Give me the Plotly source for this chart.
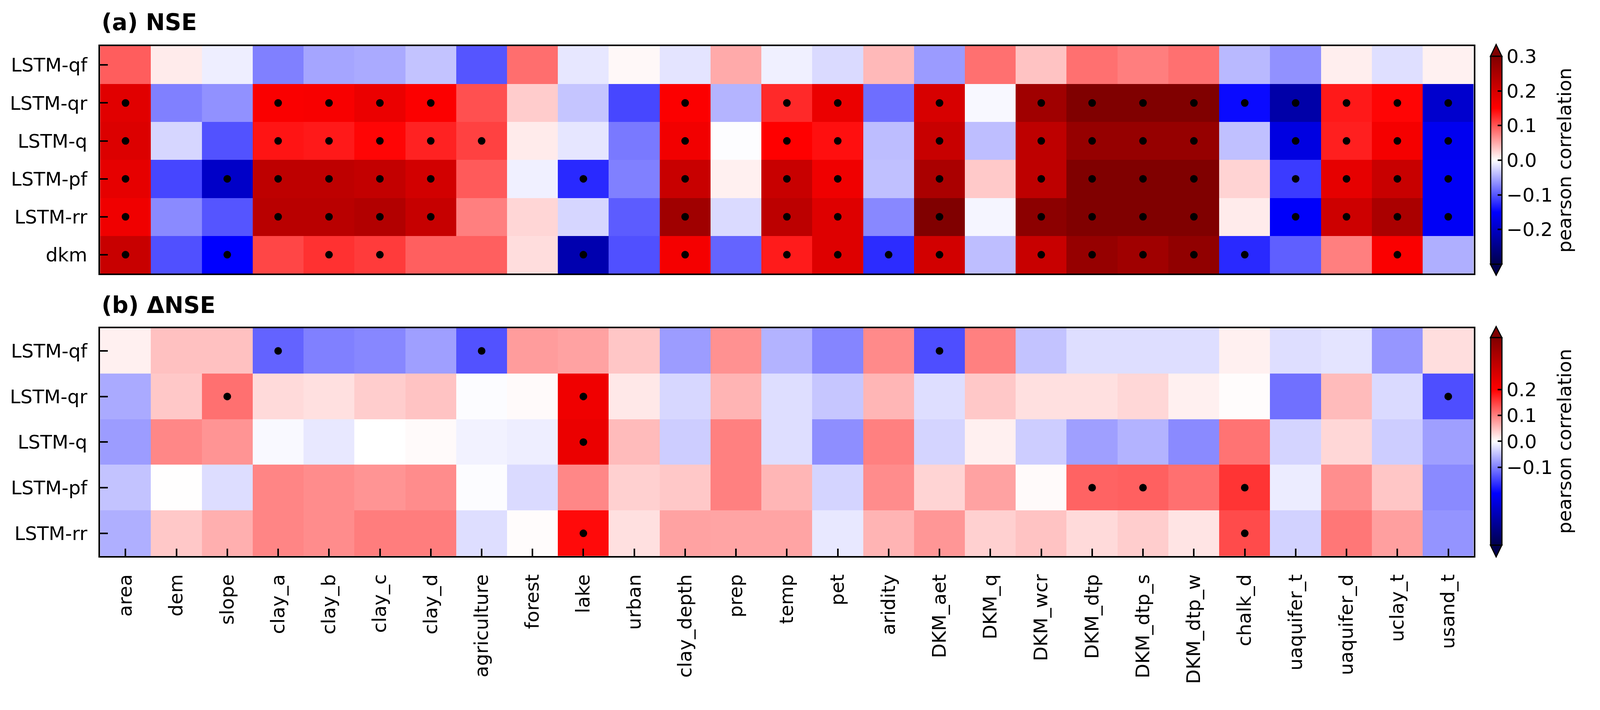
import plotly.graph_objects as go

# picture is 4205x1817; the page is drawn ~2.7% larger than css px, with an 8px body margin
S = 1.0266
M = 8
W = round(4205 / S - M)
H = round(1817 / S - M)

features = ["area", "dem", "slope", "clay_a", "clay_b", "clay_c", "clay_d", "agriculture",
            "forest", "lake", "urban", "clay_depth", "prep", "temp", "pet", "aridity",
            "DKM_aet", "DKM_q", "DKM_wcr", "DKM_dtp", "DKM_dtp_s", "DKM_dtp_w", "chalk_d",
            "uaquifer_t", "uaquifer_d", "uclay_t", "usand_t"]

models_a = ["LSTM-qf", "LSTM-qr", "LSTM-q", "LSTM-pf", "LSTM-rr", "dkm"]
models_b = ["LSTM-qf", "LSTM-qr", "LSTM-q", "LSTM-pf", "LSTM-rr"]

# (a) NSE correlations
nse_qf = [0.095, 0.012, -0.010, -0.075, -0.053, -0.050, -0.035, -0.100, 0.085, -0.014, 0.004, -0.016, 0.050, -0.009,
          -0.022, 0.041, -0.059, 0.084, 0.035, 0.084, 0.076, 0.084, -0.041, -0.065, 0.010, -0.019, 0.008]
nse_qr = [0.185, -0.075, -0.065, 0.156, 0.158, 0.174, 0.154, 0.103, 0.030, -0.034, -0.108, 0.154, -0.044, 0.126,
          0.174, -0.085, 0.197, -0.004, 0.262, 0.310, 0.310, 0.310, -0.144, -0.223, 0.135, 0.147, -0.192]
nse_q = [0.191, -0.024, -0.102, 0.138, 0.135, 0.147, 0.130, 0.112, 0.012, -0.015, -0.079, 0.165, -0.001, 0.150,
         0.141, -0.039, 0.215, -0.038, 0.227, 0.274, 0.274, 0.274, -0.037, -0.175, 0.132, 0.162, -0.163]
nse_pf = [0.180, -0.109, -0.196, 0.227, 0.227, 0.221, 0.203, 0.097, -0.009, -0.126, -0.075, 0.215, 0.009, 0.215,
          0.168, -0.037, 0.250, 0.032, 0.227, 0.305, 0.305, 0.305, 0.026, -0.115, 0.180, 0.215, -0.158]
nse_rr = [0.168, -0.069, -0.100, 0.233, 0.233, 0.241, 0.217, 0.075, 0.024, -0.024, -0.096, 0.262, -0.022, 0.229,
          0.189, -0.070, 0.310, -0.006, 0.286, 0.310, 0.310, 0.310, 0.012, -0.154, 0.209, 0.250, -0.158]
nse_dkm = [0.215, -0.103, -0.150, 0.109, 0.121, 0.115, 0.094, 0.094, 0.020, -0.217, -0.103, 0.162, -0.091, 0.134,
           0.189, -0.124, 0.203, -0.038, 0.215, 0.274, 0.262, 0.280, -0.126, -0.094, 0.075, 0.156, -0.047]

sig_a_qf = [0] * 27
sig_a_qr = [1, 0, 0, 1, 1, 1, 1, 0, 0, 0, 0, 1, 0, 1, 1, 0, 1, 0, 1, 1, 1, 1, 1, 1, 1, 1, 1]
sig_a_q = [1, 0, 0, 1, 1, 1, 1, 1, 0, 0, 0, 1, 0, 1, 1, 0, 1, 0, 1, 1, 1, 1, 0, 1, 1, 1, 1]
sig_a_pf = [1, 0, 1, 1, 1, 1, 1, 0, 0, 1, 0, 1, 0, 1, 1, 0, 1, 0, 1, 1, 1, 1, 0, 1, 1, 1, 1]
sig_a_rr = [1, 0, 0, 1, 1, 1, 1, 0, 0, 0, 0, 1, 0, 1, 1, 0, 1, 0, 1, 1, 1, 1, 0, 1, 1, 1, 1]
sig_a_dkm = [1, 0, 1, 0, 1, 1, 0, 0, 0, 1, 0, 1, 0, 1, 1, 1, 1, 0, 1, 1, 1, 1, 1, 0, 0, 1, 0]

# (b) delta NSE correlations
dnse_qf = [0.012, 0.049, 0.049, -0.122, -0.100, -0.094, -0.075, -0.136, 0.078, 0.073, 0.045, -0.078, 0.086, -0.060,
           -0.096, 0.092, -0.139, 0.100, -0.047, -0.026, -0.026, -0.026, 0.012, -0.026, -0.021, -0.082, 0.026]
dnse_qr = [-0.067, 0.043, 0.112, 0.029, 0.024, 0.039, 0.047, -0.002, 0.004, 0.224, 0.018, -0.031, 0.059, -0.026,
           -0.045, 0.057, -0.026, 0.043, 0.024, 0.024, 0.031, 0.012, 0.002, -0.112, 0.053, -0.029, -0.139]
dnse_q = [-0.078, 0.094, 0.084, -0.005, -0.018, 0.000, 0.004, -0.010, -0.013, 0.231, 0.053, -0.039, 0.100, -0.026,
          -0.089, 0.100, -0.034, 0.012, -0.039, -0.075, -0.060, -0.092, 0.110, -0.034, 0.031, -0.039, -0.075]
dnse_pf = [-0.047, 0.001, -0.027, 0.096, 0.090, 0.084, 0.090, -0.002, -0.029, 0.094, 0.037, 0.043, 0.100, 0.057,
           -0.034, 0.090, 0.034, 0.073, 0.004, 0.122, 0.125, 0.112, 0.159, -0.015, 0.089, 0.045, -0.092]
dnse_rr = [-0.063, 0.043, 0.063, 0.096, 0.090, 0.102, 0.102, -0.026, 0.002, 0.192, 0.024, 0.073, 0.071, 0.071,
           -0.018, 0.059, 0.082, 0.037, 0.047, 0.029, 0.039, 0.021, 0.141, -0.035, 0.107, 0.075, -0.084]

sig_b_qf = [0, 0, 0, 1, 0, 0, 0, 1, 0, 0, 0, 0, 0, 0, 0, 0, 1, 0, 0, 0, 0, 0, 0, 0, 0, 0, 0]
sig_b_qr = [0, 0, 1, 0, 0, 0, 0, 0, 0, 1, 0, 0, 0, 0, 0, 0, 0, 0, 0, 0, 0, 0, 0, 0, 0, 0, 1]
sig_b_q = [0, 0, 0, 0, 0, 0, 0, 0, 0, 1, 0, 0, 0, 0, 0, 0, 0, 0, 0, 0, 0, 0, 0, 0, 0, 0, 0]
sig_b_pf = [0, 0, 0, 0, 0, 0, 0, 0, 0, 0, 0, 0, 0, 0, 0, 0, 0, 0, 0, 1, 1, 0, 1, 0, 0, 0, 0]
sig_b_rr = [0, 0, 0, 0, 0, 0, 0, 0, 0, 1, 0, 0, 0, 0, 0, 0, 0, 0, 0, 0, 0, 0, 1, 0, 0, 0, 0]

z_a = [nse_qf, nse_qr, nse_q, nse_pf, nse_rr, nse_dkm]
s_a = [sig_a_qf, sig_a_qr, sig_a_q, sig_a_pf, sig_a_rr, sig_a_dkm]
z_b = [dnse_qf, dnse_qr, dnse_q, dnse_pf, dnse_rr]
s_b = [sig_b_qf, sig_b_qr, sig_b_q, sig_b_pf, sig_b_rr]

seismic = [[0.0, "rgb(0,0,77)"], [0.25, "rgb(0,0,255)"], [0.5, "rgb(255,255,255)"],
           [0.75, "rgb(255,0,0)"], [1.0, "rgb(128,0,0)"]]

FONT = "DejaVu Sans"
FS = 50 / S
CB_X = 3917


def d(n):
    # picture pixels -> css pixels (sizes)
    return n / S


def px(p):
    return (p / S - M) / W


def py(p):
    return 1 - (p / S - M) / H


def cbar(y_top, y_bot, ticks):
    return dict(x=px(CB_X), xanchor="left", y=py((y_top + y_bot) / 2), yanchor="middle",
                len=d(y_bot - y_top), lenmode="pixels", thickness=d(30), thicknessmode="pixels",
                xpad=0, ypad=0, outlinewidth=3, outlinecolor="black",
                ticks="inside", ticklen=d(12), tickwidth=d(4), tickcolor="black",
                tickvals=ticks, tickformat=".1f", tickfont=dict(size=FS, family=FONT),
                title=dict(text="pearson correlation", side="right", font=dict(size=FS, family=FONT)))


def dots(rows, sig, xa, ya):
    xs, ys = [], []
    for r, m in zip(rows, sig):
        for f, s in zip(features, m):
            if s:
                xs.append(f)
                ys.append(r)
    return go.Scatter(x=xs, y=ys, mode="markers", xaxis=xa, yaxis=ya, showlegend=False,
                      marker=dict(color="black", size=d(20)), hoverinfo="skip", cliponaxis=False)


fig = go.Figure()
fig.add_trace(go.Heatmap(z=z_a, x=features, y=models_a, colorscale=seismic, zmin=-0.3, zmax=0.3,
                         xaxis="x", yaxis="y", colorbar=cbar(148, 694, [-0.2, -0.1, 0.0, 0.1, 0.2, 0.3])))
fig.add_trace(dots(models_a, s_a, "x", "y"))
fig.add_trace(go.Heatmap(z=z_b, x=features, y=models_b, colorscale=seismic, zmin=-0.4, zmax=0.4,
                         xaxis="x2", yaxis="y2", colorbar=cbar(887, 1432, [-0.1, 0.0, 0.1, 0.2])))
fig.add_trace(dots(models_b, s_b, "x2", "y2"))

ax = dict(showline=True, mirror=True, linecolor="black", linewidth=d(4), showgrid=False, zeroline=False,
          tickfont=dict(size=FS, family=FONT, color="black"), type="category")
tk = dict(ticks="inside", ticklen=d(20), tickwidth=d(4), tickcolor="black")
xr = [-0.5, len(features) - 0.5]

fig.update_layout(
    width=W, height=H,
    margin=dict(l=0, r=0, t=0, b=0, autoexpand=False),
    paper_bgcolor="white", plot_bgcolor="white",
    font=dict(family=FONT, color="black"),
    xaxis=dict(**ax, domain=[px(263), px(3873)], anchor="y", showticklabels=False, ticks="",
               categoryorder="array", categoryarray=features, range=xr),
    yaxis=dict(**ax, **tk, domain=[py(719), py(121)], anchor="x", range=[len(models_a) - 0.5, -0.5],
               categoryorder="array", categoryarray=models_a, ticklabelstandoff=19),
    xaxis2=dict(**ax, **tk, domain=[px(263), px(3873)], anchor="y2", tickangle=-90,
                categoryorder="array", categoryarray=features, range=xr, ticklabelstandoff=23),
    yaxis2=dict(**ax, **tk, domain=[py(1461), py(862)], anchor="x2", range=[len(models_b) - 0.5, -0.5],
                categoryorder="array", categoryarray=models_b, ticklabelstandoff=19),
    annotations=[
        dict(text="<b>(a) NSE</b>", x=px(265), y=py(59), xref="paper", yref="paper",
             xanchor="left", yanchor="middle", showarrow=False, font=dict(size=60 / S, family=FONT)),
        dict(text="<b>(b) ΔNSE</b>", x=px(265), y=py(802), xref="paper", yref="paper",
             xanchor="left", yanchor="middle", showarrow=False, font=dict(size=60 / S, family=FONT)),
    ],
)


def tri(base, tip, color):
    x0, x1, xm = px(CB_X), px(CB_X + 30), px(CB_X + 15)
    return dict(type="path", xref="paper", yref="paper",
                path=f"M {x0} {py(base)} L {x1} {py(base)} L {xm} {py(tip)} Z",
                fillcolor=color, line=dict(color="black", width=3))


fig.update_layout(shapes=[
    tri(148, 117, "rgb(128,0,0)"), tri(694, 723, "rgb(0,0,77)"),
    tri(887, 858, "rgb(128,0,0)"), tri(1432, 1463, "rgb(0,0,77)"),
])

fig.write_html("out.html")
